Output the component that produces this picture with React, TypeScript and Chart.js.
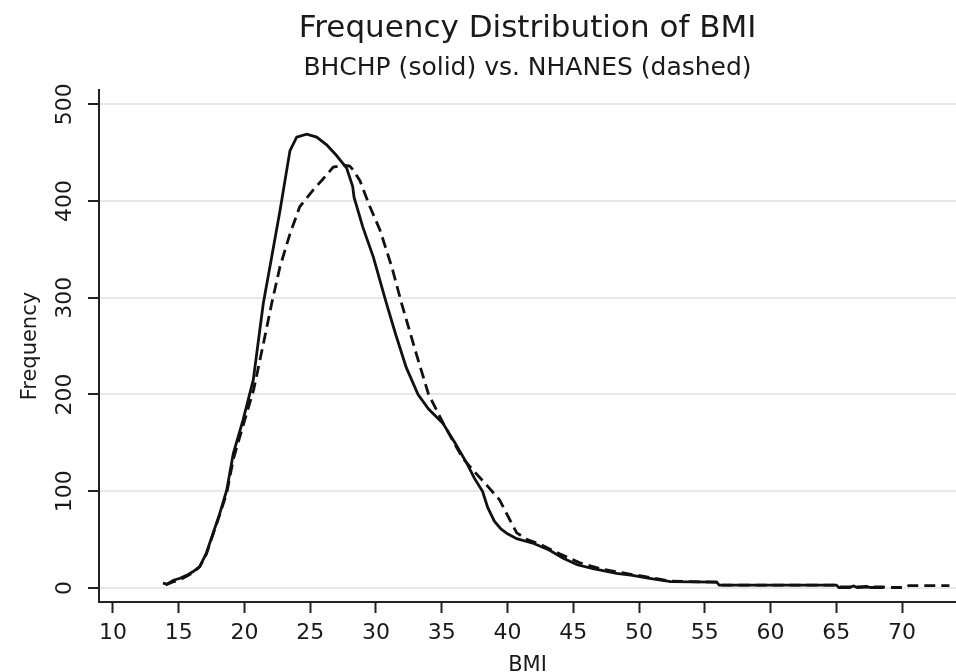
import React, { useEffect, useRef } from "react";
import { Chart, registerables } from "chart.js";

Chart.register(...registerables);

const titleText = "Frequency Distribution of BMI";
const subtitleText = "BHCHP (solid) vs. NHANES (dashed)";
const xTitle = "BMI";
const yTitle = "Frequency";

const xTicks = [10, 15, 20, 25, 30, 35, 40, 45, 50, 55, 60, 65, 70];
const yTicks = [0, 100, 200, 300, 400, 500];

// BHCHP (solid line)
const bhchpBmi = [
  13.8, 14.1, 14.6, 15.1, 15.6, 16.1, 16.6, 17.1, 17.6, 18.1, 18.65, 19.15, 19.9,
  20.67, 21.43, 22.07, 22.7, 23.25, 23.46, 23.97, 24.73, 25.49, 26.25, 27.0, 27.77,
  28.23, 28.33, 29.0, 29.8, 30.8, 31.5, 32.3, 33.2, 34.0, 35.1, 36.0, 36.9, 37.5,
  38.1, 38.5, 39.0, 39.5, 40.0, 40.7, 42.0, 43.2, 44.2, 45.3, 46.5, 48.3, 49.5,
  50.8, 52.4, 55.9, 56.1, 65.0, 65.2, 66.0, 66.3, 66.6, 67.3, 67.6, 68.6,
];
const bhchpFreq = [
  5, 4, 8, 10, 13, 17, 22, 36, 56, 76, 101, 139, 174,
  215, 294, 342, 390, 435, 452, 466, 469, 466, 458, 447, 434,
  415, 404, 373, 342, 294, 262, 228, 200, 185, 170, 150, 129, 113,
  100, 83, 69, 61, 56, 51, 46, 39, 31, 24, 20, 15, 13,
  10, 6.5, 6, 3, 3, 0.5, 0.5, 2, 0.5, 1.5, 0.5, 0.5,
];

// NHANES (dashed line)
const nhanesBmi = [
  14.0, 14.5, 15.0, 15.6, 16.1, 16.6, 17.1, 17.6, 18.1, 18.65, 19.15, 19.9, 20.7,
  21.4, 22.07, 22.7, 23.46, 24.2, 25.2, 25.99, 26.75, 27.5, 28.0, 28.27, 28.78,
  29.54, 30.3, 31.2, 31.95, 33.0, 34.0, 35.2, 36.6, 37.5, 38.5, 39.4, 40.0, 40.7,
  41.5, 42.5, 44.0, 45.5, 47.0, 49.0, 50.8, 52.4, 55.9, 56.1, 65.0, 65.2, 68.5,
  69.3, 70.3, 70.5, 73.6,
];
const nhanesFreq = [
  3, 6, 8, 12, 16, 22, 35, 55, 75, 98, 133, 168, 205,
  250, 294, 332, 366, 394, 411, 423, 435, 437, 436, 432, 421,
  394, 370, 332, 294, 245, 200, 168, 134, 120, 105, 91, 75, 57,
  50, 45, 35, 26, 20, 15, 11, 7, 6, 3, 3, 1, 1,
  0.5, 0.5, 2.5, 2.5,
];

const FONT = "'DejaVu Sans', 'Liberation Sans', sans-serif";
const TEXT = "#1a1a1a";
const AXIS = "#222222";

export default function App() {
  const ref = useRef<HTMLCanvasElement>(null);

  useEffect(() => {
    if (!ref.current) return;
    const chart = new Chart(ref.current, {
      type: "line",
      data: {
        datasets: [
          {
            label: "BHCHP",
            data: bhchpBmi.map((x, i) => ({ x, y: bhchpFreq[i] })),
            borderColor: "#111111",
            borderWidth: 2.8,
            pointRadius: 0,
            fill: false,
            tension: 0,
          },
          {
            label: "NHANES",
            data: nhanesBmi.map((x, i) => ({ x, y: nhanesFreq[i] })),
            borderColor: "#111111",
            borderWidth: 2.8,
            borderDash: [11, 6],
            pointRadius: 0,
            fill: false,
            tension: 0,
          },
        ],
      },
      options: {
        responsive: false,
        animation: false,
        layout: { padding: 0 },
        plugins: {
          legend: { display: false },
          tooltip: { enabled: false },
          title: {
            display: true,
            text: titleText,
            fullSize: false,
            color: TEXT,
            font: { family: FONT, size: 31, weight: "normal" },
            padding: { top: 10, bottom: 0 },
          },
          subtitle: {
            display: true,
            text: subtitleText,
            fullSize: false,
            color: TEXT,
            font: { family: FONT, size: 25, weight: "normal" },
            padding: { top: 6, bottom: 7 },
          },
        },
        scales: {
          x: {
            type: "linear",
            min: 8.94,
            max: 74.1,
            afterBuildTicks: (s: any) => {
              s.ticks = xTicks.map((v) => ({ value: v }));
            },
            afterFit: (s: any) => {
              s.height = 70;
            },
            ticks: {
              autoSkip: false,
              maxRotation: 0,
              minRotation: 0,
              padding: 7,
              color: TEXT,
              font: { family: FONT, size: 22 },
            },
            grid: {
              drawOnChartArea: false,
              drawTicks: true,
              tickLength: 11,
              tickColor: AXIS,
              tickWidth: 2,
            },
            border: { display: true, color: AXIS, width: 2 },
            title: {
              display: true,
              text: xTitle,
              color: TEXT,
              font: { family: FONT, size: 21, lineHeight: 0.62 },
              padding: { top: 0, bottom: 0 },
            },
          },
          y: {
            type: "linear",
            min: -14.5,
            max: 514.5,
            afterBuildTicks: (s: any) => {
              s.ticks = yTicks.map((v) => ({ value: v }));
            },
            afterFit: (s: any) => {
              s.width = 99;
            },
            ticks: {
              minRotation: 90,
              maxRotation: 90,
              crossAlign: "center",
              padding: 2,
              color: TEXT,
              font: { family: FONT, size: 22 },
            },
            grid: {
              color: "#e8e8e8",
              lineWidth: 2,
              tickLength: 11,
              tickColor: AXIS,
              tickWidth: 2,
            },
            border: { display: true, color: AXIS, width: 2 },
            title: {
              display: true,
              text: yTitle,
              color: TEXT,
              font: { family: FONT, size: 21 },
              padding: { top: 18, bottom: 0 },
            },
          },
        },
      },
    });
    return () => chart.destroy();
  }, []);

  return (
    <div
      style={{
        position: "absolute",
        left: 0,
        top: 0,
        width: 956,
        height: 672,
        background: "#ffffff",
      }}
    >
      <canvas ref={ref} width={956} height={672} />
    </div>
  );
}
